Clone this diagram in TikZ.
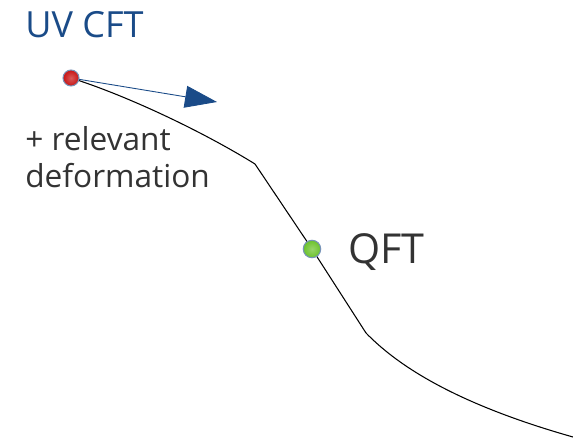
\documentclass[tikz,border=0pt]{standalone}
\usepackage{fontspec}
\setmainfont{Open Sans}
\usetikzlibrary{arrows.meta,positioning}
\definecolor{flowblue}{HTML}{1A4B88}
\definecolor{textgray}{HTML}{333333}
\definecolor{uvred}{HTML}{C81414}
\definecolor{irgreen}{HTML}{6CC22C}
\tikzset{
        x=0.02cm, y=-0.02cm,
        every node/.style={inner sep=0pt}, % text placed by its baseline
        fixedpoint/.style={ % Sets the look of the two points on the flow
            circle,
            draw=flowblue!60,
            line width=0.6pt},
        flowline/.style={
            draw,
            black,
            line width=0.6pt},
        direction/.style={ % Thin arrow with a big triangle head
            flowblue,
            line width=0.5pt,
            -{Triangle[length=0.64cm,width=0.44cm]}}
        }
\begin{document}
\begin{tikzpicture}
    \useasboundingbox (0,0) rectangle (573,438);

    % points on the flow
    \coordinate (uvpt) at (71,78);
    \coordinate (qftpt) at (312,249);
    \coordinate (bend1) at (255,164);
    \coordinate (bend2) at (366,333);
    \coordinate (irend) at (573,437);
    \coordinate (tip) at (217,102);

    % the flow itself
    \draw[flowline]
        (uvpt) .. controls (125,95) and (200,130) .. (bend1)
        -- (qftpt) -- (bend2)
        .. controls (400,368) and (460,405) .. (irend);
    \draw[direction] (uvpt) -- (tip);

    \node[fixedpoint, minimum size=0.32cm, inner color=uvred!70!white, outer color=uvred] (uv) at (uvpt) {};
    \node[fixedpoint, minimum size=0.35cm, inner color=irgreen!70!white, outer color=irgreen] (qft) at (qftpt) {};

    % labels
    \node[anchor=base west, text=flowblue, font=\fontsize{20.5}{24}\selectfont] (uvlabel) at (25,38) {UV CFT};
    \node[anchor=north west, align=left, text=textgray, font=\fontsize{18}{21}\selectfont] (deform) at (25,126) {+ relevant\\deformation};
    \node[anchor=base west, text=textgray, font=\fontsize{23.5}{28}\selectfont] (qftlabel) at (348,263) {QFT};
\end{tikzpicture}
\end{document}
